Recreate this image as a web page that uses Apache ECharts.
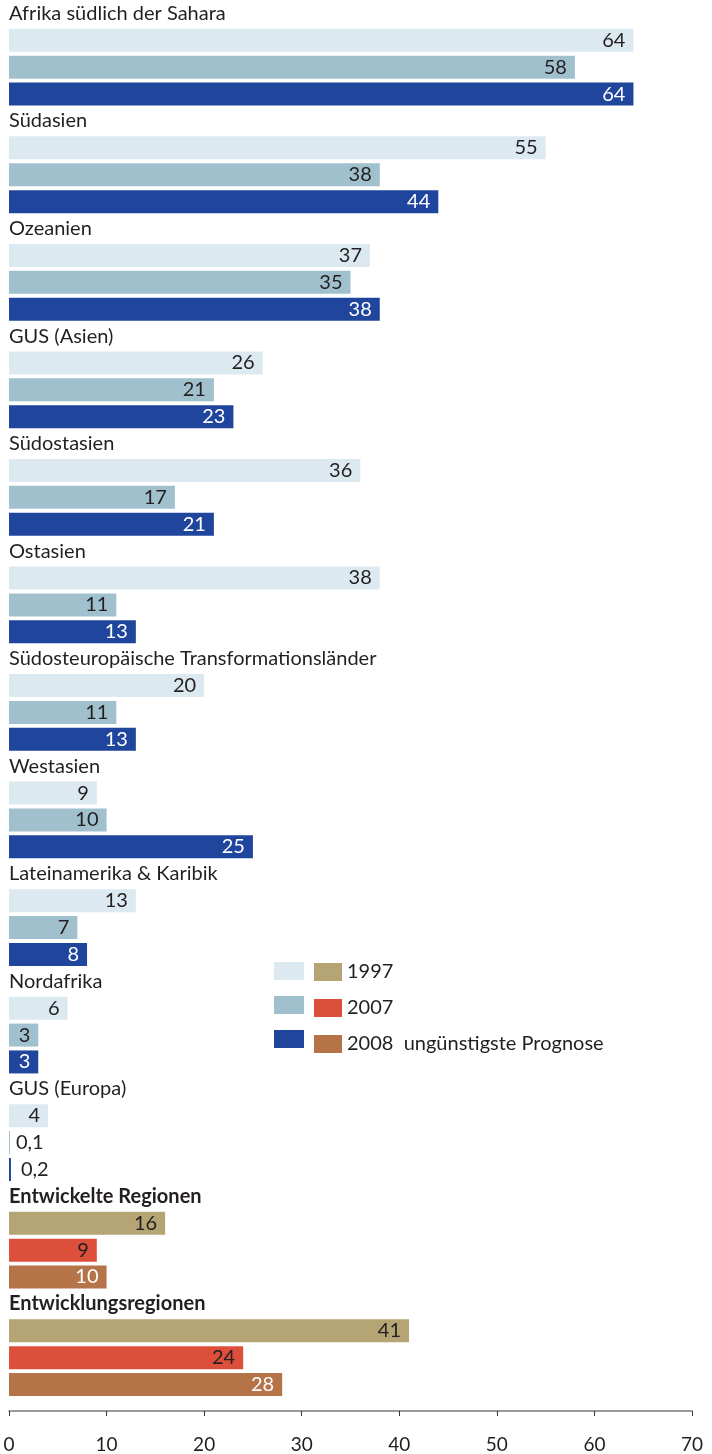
<!DOCTYPE html>
<html>
<head>
<meta charset="utf-8">
<script src="https://cdn.jsdelivr.net/npm/echarts@6/dist/echarts.min.js"></script>
<style>
    html, body { margin: 0; padding: 0; background: #fff; }
    #chart { width: 712px; height: 1454px; }
</style>
</head>
<body>
<div id="chart"></div>
<script>
// regions, top to bottom
const regions = [
    'Afrika südlich der Sahara', 'Südasien', 'Ozeanien', 'GUS (Asien)', 'Südostasien',
    'Ostasien', 'Südosteuropäische Transformationsländer', 'Westasien',
    'Lateinamerika & Karibik', 'Nordafrika', 'GUS (Europa)',
    'Entwickelte Regionen', 'Entwicklungsregionen'
]
const v1997 = [64, 55, 37, 26, 36, 38, 20, 9, 13, 6, 4, 16, 41]
const v2007 = [58, 38, 35, 21, 17, 11, 11, 10, 7, 3, 0.1, 9, 24]
const v2008 = [64, 44, 38, 23, 21, 13, 13, 25, 8, 3, 0.2, 10, 28]
const xTicks = [0, 10, 20, 30, 40, 50, 60, 70]

const nSub = 11   // first 11 are sub-regions, last 2 are the totals
const font = 'Lato'
const dark = '#231f20'

const blue = ['#dde9f0', '#a1c0cd', '#1f459c']
const brown = ['#b5a474', '#dc4f3b', '#b57348']
const labelColor = [dark, dark, '#fff']
const years = ['1997', '2007', '2008  ungünstigste Prognose']

// 4 rows per region: name row + three bars
const rows = []
regions.forEach(r => { rows.push(r, '', '', '') })

const cols = [v1997, v2007, v2008]

function makeData(s, totals) {
    return rows.map((_, i) => {
        const g = Math.floor(i / 4), j = i % 4
        if (j !== s + 1) return '-'
        if (totals !== (g >= nSub)) return '-'
        const v = cols[s][g]
        if (v < 1) {
            return { value: v, label: { position: 'right', distance: 6 + (s - 1) * 4, color: dark } }
        }
        return v
    })
}

const series = []
;[false, true].forEach(totals => {
    for (let s = 0; s < 3; s++) {
        series.push({
            type: 'bar',
            name: totals ? years[s] : years[s] + ' ',
            data: makeData(s, totals),
            barWidth: 23,
            barGap: '-100%',
            itemStyle: { color: (totals ? brown : blue)[s] },
            label: {
                show: true,
                position: 'insideRight',
                distance: 8,
                color: labelColor[s],
                fontFamily: font,
                fontSize: 20,
                formatter: p => String(p.value).replace('.', ',')
            },
            emphasis: { disabled: true },
            animation: false
        })
    }
})

const chart = echarts.init(document.getElementById('chart'))
chart.setOption({
    animation: false,
    grid: { left: 9, right: 20, top: 0, height: 1400 },
    legend: [
        {
            data: years.map(y => y + ' '),
            orient: 'vertical',
            left: 269,
            top: 957,
            itemWidth: 30,
            itemHeight: 18,
            itemGap: 16,
            icon: 'rect',
            selectedMode: false,
            formatter: () => '',
        },
        {
            data: years,
            orient: 'vertical',
            left: 309,
            top: 957,
            itemWidth: 28,
            itemHeight: 18,
            itemGap: 16,
            icon: 'rect',
            selectedMode: false,
            textStyle: { fontFamily: font, fontSize: 20, color: dark },
        }
    ],
    xAxis: {
        type: 'value',
        min: 0,
        max: 70,
        interval: 10,
        offset: 13,
        splitLine: { show: false },
        axisLine: { show: true, lineStyle: { color: '#7a7a7a', width: 1.5 } },
        axisTick: { show: true, length: 5, lineStyle: { color: '#333' } },
        axisLabel: {
            margin: 24,
            fontFamily: font,
            fontSize: 19,
            color: dark,
            formatter: v => xTicks.includes(v) ? String(v) : ''
        }
    },
    yAxis: {
        type: 'category',
        inverse: true,
        data: rows,
        axisLine: { show: false },
        axisTick: { show: false },
        axisLabel: {
            inside: true,
            interval: 0,
            margin: 0,
            fontFamily: font,
            fontSize: 20,
            color: dark,
            formatter: (v, i) => (i >= nSub * 4 && v) ? '{b|' + v + '}' : v,
            rich: {
                b: { fontFamily: font, fontSize: 20, fontWeight: 'bold', color: dark }
            }
        }
    },
    series: series
})
</script>
</body>
</html>
